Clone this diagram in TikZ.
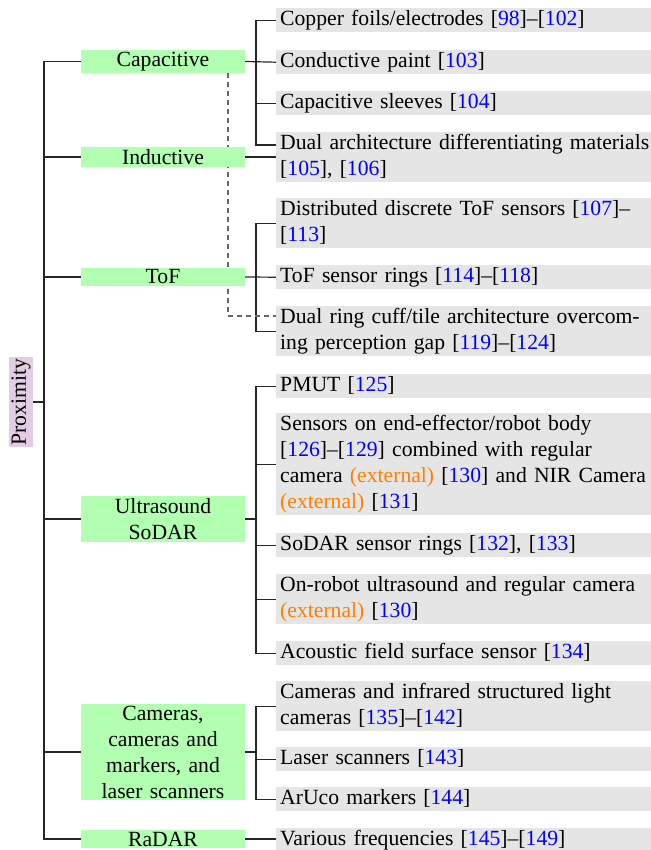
\documentclass[tikz,border=0pt]{standalone}
\usepackage{fontspec}
\setmainfont{Liberation Serif}
\usetikzlibrary{backgrounds}
\newcommand\rf[1]{[\textcolor{blue}{#1}]}
\newcommand\ext{\textcolor{orange}{(external)}}
\begin{document}
\begin{tikzpicture}[x=1pt,y=-1pt,
  every node/.style={font=\fontsize{21.67pt}{26pt}\selectfont},
  leaf/.style={anchor=north west, fill=black!10, text width=390pt,
    inner xsep=4pt, inner ysep=0pt, align=left,
    execute at begin node={\rule{0pt}{17pt}},
    execute at end node={\rule[-7pt]{0pt}{7pt}}},
  cat/.style={fill=green!30, text width=160pt, inner xsep=2pt,
    inner ysep=2pt, align=center},
  conn/.style={line width=1.2pt, black!85},
  link/.style={line width=1.2pt, black!60, dash pattern=on 5pt off 4pt}]
\useasboundingbox (0,0) rectangle (650,850);

% root
\node[fill=violet!20, rotate=90, inner xsep=2pt, inner ysep=2.5pt] (prox) at (21,402) {Proximity};

% sensing principles
\node[cat] (cap) at (163,61.5) {Capacitive};
\node[cat] (ind) at (163,157) {Inductive};
\node[cat] (tof) at (163,277) {ToF};
\node[cat] (us) at (163,519) {Ultrasound\\SoDAR};
\node[cat] (cam) at (163,752) {Cameras,\\cameras and\\markers, and\\laser scanners};
\node[cat] (radar) at (163,839) {RaDAR};

% implementations
\node[leaf] (b1) at (276,8) {Copper foils/electrodes \rf{98}--\rf{102}};
\node[leaf] (b2) at (276,50) {Conductive paint \rf{103}};
\node[leaf] (b3) at (276,91) {Capacitive sleeves \rf{104}};
\node[leaf] (b4) at (276,132) {Dual architecture differentiating materials\linebreak \rf{105}, \rf{106}};
\node[leaf] (b5) at (276,198) {Distributed discrete ToF sensors \rf{107}--\linebreak \rf{113}};
\node[leaf] (b6) at (276,265) {ToF sensor rings \rf{114}--\rf{118}};
\node[leaf] (b7) at (276,306) {Dual ring cuff/tile architecture overcom-\linebreak ing perception gap \rf{119}--\rf{124}};
\node[leaf] (b8) at (276,374) {PMUT \rf{125}};
\node[leaf] (b9) at (276,413) {Sensors on end-effector/robot body\linebreak \rf{126}--\rf{129} combined with regular\linebreak camera \ext{} \rf{130} and NIR Camera\linebreak \ext{} \rf{131}};
\node[leaf] (b10) at (276,533) {SoDAR sensor rings \rf{132}, \rf{133}};
\node[leaf] (b11) at (276,574) {On-robot ultrasound and regular camera\linebreak \ext{} \rf{130}};
\node[leaf] (b12) at (276,641) {Acoustic field surface sensor \rf{134}};
\node[leaf] (b13) at (276,681) {Cameras and infrared structured light\linebreak cameras \rf{135}--\rf{142}};
\node[leaf] (b14) at (276,747) {Laser scanners \rf{143}};
\node[leaf] (b15) at (276,787) {ArUco markers \rf{144}};
\node[leaf] (b16) at (276,828) {Various frequencies \rf{145}--\rf{149}};

\coordinate (trunk) at (44,0);
\coordinate (bus) at (256,0);
\coordinate (dx) at (228,0);

\begin{scope}[on background layer]
  % trunk
  \draw[conn] (prox.south) -- (prox.south -| trunk);
  \draw[conn] (cap.west) -| (trunk |- radar.west) -- (radar.west);
  \foreach \n in {ind,tof,us,cam}
    \draw[conn] (\n.west) -- (\n.west -| trunk);
  % capacitive
  \draw[conn] (cap.east) -- (b2.west);
  \draw[conn] (b1.west) -| ([yshift=-13pt]b4.north west -| bus) -- ([yshift=-13pt]b4.north west);
  \draw[conn] (b3.west) -- (b3.west -| bus);
  % inductive
  \draw[conn] (ind.east) -- (ind.east -| b4.west);
  % ToF
  \draw[conn] (tof.east) -- (b6.west);
  \draw[conn] (b5.west) -| (bus |- b7.west) -- (b7.west);
  % ultrasound
  \draw[conn] (us.east) -- (us.east -| bus);
  \draw[conn] (b8.west) -| (bus |- b12.west) -- (b12.west);
  \foreach \n in {b9,b10,b11}
    \draw[conn] (\n.west) -- (\n.west -| bus);
  % cameras
  \draw[conn] (cam.east) -- (cam.east -| bus);
  \draw[conn] (b13.west) -| (bus |- b15.west) -- (b15.west);
  \draw[conn] (b14.west) -- (b14.west -| bus);
  % radar
  \draw[conn] (radar.east) -- (radar.east -| b16.west);
  % capacitive sensing reused by the dual ring architecture
  \draw[link] (cap.south -| dx) |- ([yshift=-10pt]b7.north west);
\end{scope}
\end{tikzpicture}
\end{document}
